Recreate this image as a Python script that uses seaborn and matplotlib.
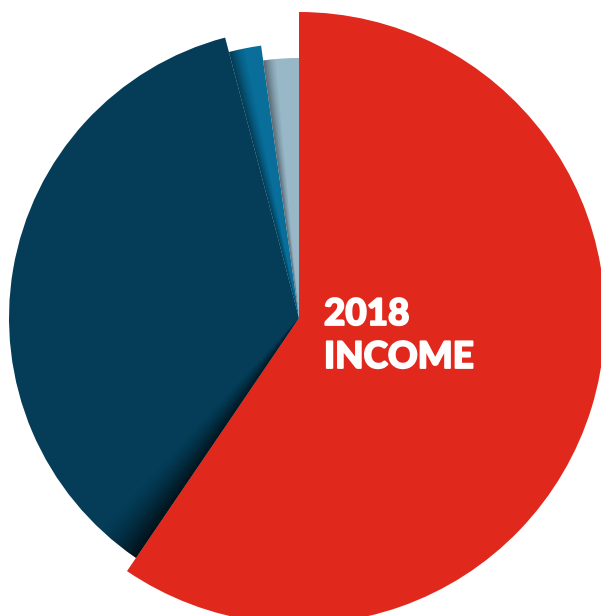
import numpy as np
import matplotlib
matplotlib.use("Agg")
import matplotlib.pyplot as plt
import matplotlib.patheffects as pe
from matplotlib.patches import Wedge
import seaborn as sns

# slice shares in percent, clockwise from 12 o'clock
categories = ["Segment A", "Segment B", "Segment C", "Segment D"]
shares = [59.5, 36.4, 1.9, 2.2]
title_lines = ["2018", "INCOME"]

sns.set_theme(style="white")
plt.rcParams["font.family"] = ["Lato", "DejaVu Sans"]

colors = ["#E0281C", "#053D58", "#0A6E9A", "#98B7C7"]
radii = [306, 290, 275, 260]
shadow_span = [0, 9, 3.5, 3.0]  # degrees of shading at each slice's leading edge
shadow_alpha = [0, 0.8, 0.55, 0.5]

W, H = 601, 616
cx, cy = 299, H - 318

fig = plt.figure(figsize=(W / 100, H / 100), dpi=100)
ax = fig.add_axes([0, 0, 1, 1])
ax.set_xlim(0, W)
ax.set_ylim(0, H)
ax.set_aspect("equal")
ax.axis("off")

angles = np.concatenate([[0], np.cumsum(shares) / sum(shares) * 360])

for i, cat in enumerate(categories):
    start, end = angles[i], angles[i + 1]
    # clockwise-from-top -> matplotlib counterclockwise-from-x
    t1, t2 = 90 - end, 90 - start
    ax.add_patch(Wedge((cx, cy), radii[i], t1, t2, facecolor=colors[i],
                       edgecolor="none", label=cat, zorder=2))
    if shadow_span[i] > 0:
        n = 40
        steps = np.linspace(0, shadow_span[i], n + 1)
        for k in range(n):
            a = shadow_alpha[i] * (1 - k / n) ** 1.6
            ax.add_patch(Wedge((cx, cy), radii[i], t2 - steps[k + 1], t2 - steps[k],
                               facecolor="black", alpha=a, edgecolor="none",
                               linewidth=0, zorder=3))

heavy = [pe.withStroke(linewidth=1.3, foreground="white")]
ax.text(324, H - 297, title_lines[0], color="white", fontsize=26.5, fontweight="black",
        ha="left", va="top", zorder=5, path_effects=heavy)
ax.text(324, H - 340, title_lines[1], color="white", fontsize=26.5, fontweight="black",
        ha="left", va="top", zorder=5, path_effects=heavy)

fig.savefig("out.png", dpi=100, facecolor="white")
